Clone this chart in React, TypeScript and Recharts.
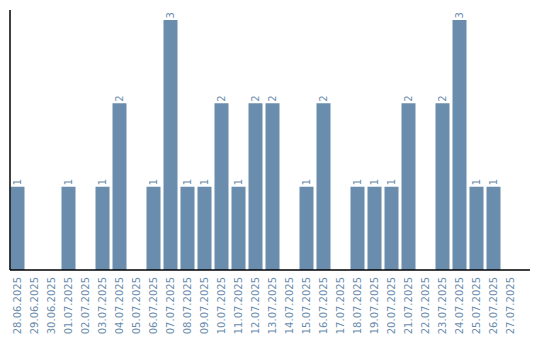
import { BarChart, Bar, XAxis, YAxis, LabelList } from "recharts";

const dates = [
  "28.06.2025", "29.06.2025", "30.06.2025", "01.07.2025", "02.07.2025", "03.07.2025",
  "04.07.2025", "05.07.2025", "06.07.2025", "07.07.2025", "08.07.2025", "09.07.2025",
  "10.07.2025", "11.07.2025", "12.07.2025", "13.07.2025", "14.07.2025", "15.07.2025",
  "16.07.2025", "17.07.2025", "18.07.2025", "19.07.2025", "20.07.2025", "21.07.2025",
  "22.07.2025", "23.07.2025", "24.07.2025", "25.07.2025", "26.07.2025", "27.07.2025",
];

const counts = [
  1, 0, 0, 1, 0, 1,
  2, 0, 1, 3, 1, 1,
  2, 1, 2, 2, 0, 1,
  2, 0, 1, 1, 1, 2,
  0, 2, 3, 1, 1, 0,
];

const barColor = "#6a8cad";
const textColor = "#6a8cad";
const font = "'DejaVu Sans', sans-serif";

const data = dates.map((d, i) => ({ date: d, count: counts[i] }));

function DateTick(props: any) {
  const { x, y, payload } = props;
  return (
    <text
      transform={`translate(${x},${y + 7}) rotate(-90)`}
      textAnchor="end"
      dy="0.35em"
      fill={textColor}
      fontSize={10}
      fontFamily={font}
    >
      {payload.value}
    </text>
  );
}

function ValueLabel(props: any) {
  const { x, y, width, value } = props;
  if (!value) return null;
  return (
    <text
      transform={`translate(${x + width / 2},${y - 1.5}) rotate(-90)`}
      textAnchor="start"
      dy="0.35em"
      fill={textColor}
      fontSize={10}
      fontFamily={font}
    >
      {value}
    </text>
  );
}

export default function App() {
  return (
    <div style={{ position: "absolute", left: 0, top: 0, width: 540, height: 340, background: "#fff" }}>
      <BarChart
        width={540}
        height={340}
        data={data}
        margin={{ top: 10, right: 10, left: 9, bottom: 0 }}
      >
        <XAxis
          dataKey="date"
          interval={0}
          height={70}
          tickLine={false}
          tickSize={0}
          tickMargin={0}
          padding={{ left: -1.5, right: 11.5 }}
          axisLine={{ stroke: "#000", strokeWidth: 1.5 }}
          tick={<DateTick />}
        />
        <YAxis
          width={1}
          domain={[0, 3.12]}
          ticks={[]}
          tick={false}
          tickLine={false}
          axisLine={{ stroke: "#000", strokeWidth: 1.5 }}
        />
        <Bar dataKey="count" fill={barColor} barSize={14} isAnimationActive={false}>
          <LabelList dataKey="count" content={<ValueLabel />} />
        </Bar>
      </BarChart>
    </div>
  );
}
